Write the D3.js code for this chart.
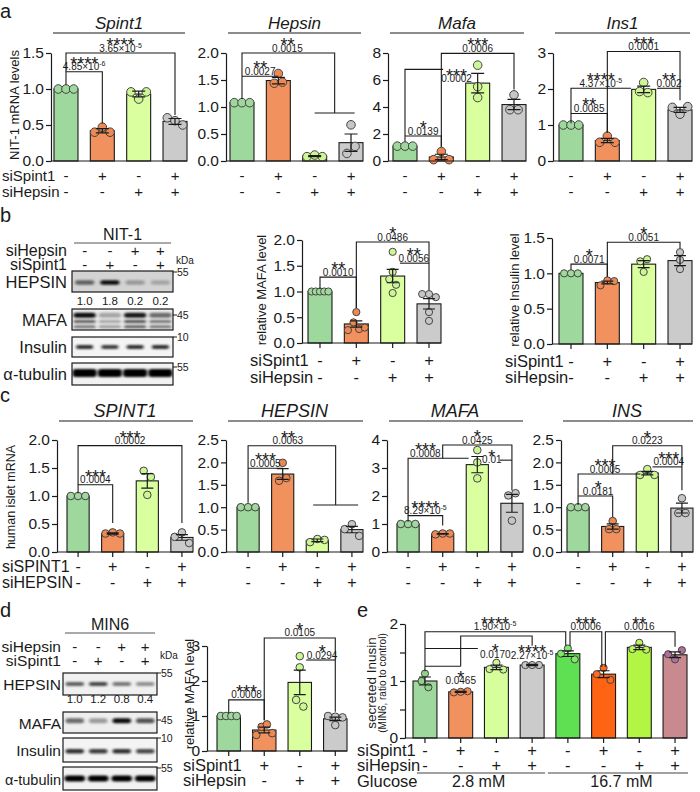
<!DOCTYPE html>
<html><head><meta charset="utf-8">
<script src="https://cdn.jsdelivr.net/npm/d3@7"></script>
<style>
body{margin:0;background:#fff}
svg{display:block}
text{font-family:"Liberation Sans",Arial,sans-serif;fill:#1a1a1a}
</style>
</head><body>
<svg id="fig" width="700" height="792"></svg>
<script>
// ---------------- DATA ----------------
const spintSigns = ["-", "+", "-", "+"];
const hepsinSigns = ["-", "-", "+", "+"];
const barColors = ["#9fd89c", "#f0915e", "#d9ff9e", "#cbcbcb"];
const pointColors = ["#9fd89c", "#ef8953", "#cdf794", "#c6c6c6"];

// panel a (NIT-1 mRNA)
const aGenes = ["Spint1", "Hepsin", "Mafa", "Ins1"];
const aMax = [1.5, 2, 8, 3];
const aTicks = [[0, 0.5, 1, 1.5], [0, 0.5, 1, 1.5, 2], [0, 2, 4, 6, 8], [0, 1, 2, 3]];
const aFmt = [".1f", ".1f", "d", "d"];
const aMeans = [
  [1.0, 0.42, 0.93, 0.55],
  [1.08, 1.49, 0.09, 0.34],
  [1.1, 0.3, 5.77, 4.18],
  [1.0, 0.57, 1.99, 1.42]
];
const aSems = [
  [0, 0.03, 0.04, 0.04],
  [0, 0.06, 0.01, 0.16],
  [0, 0.2, 0.72, 0.38],
  [0, 0.06, 0.09, 0.07]
];
const aPoints = [
  [[1, 1, 1], [0.40, 0.47, 0.40], [0.96, 0.86, 0.96], [0.60, 0.56, 0.50]],
  [[1.08, 1.08, 1.08], [1.44, 1.62, 1.46], [0.08, 0.11, 0.08], [0.14, 0.67, 0.27]],
  [[1.1, 1.1, 1.1], [0.1, 0.7, 0.1], [7.1, 5.5, 4.7], [3.8, 4.9, 3.8]],
  [[1, 1, 1], [0.52, 0.69, 0.52], [1.93, 2.18, 1.9], [1.49, 1.3, 1.51]]
];
const aStats = [
  [
    {s: "****", p: "4.85×10", e: "-6", tx: 0.5, ty: 1.24, path: [[0, 1.06], [0, 1.24], [1, 1.24], [1, 0.52]]},
    {s: "****", p: "3.65×10", e: "-5", tx: 1.5, ty: 1.5, path: [[0, 1.24], [0, 1.5], [3, 1.5], [3, 0.64]]}
  ],
  [
    {s: "**", p: "0.0015", tx: 1.25, ty: 2.0, path: [[0, 1.15], [0, 2.0], [2.55, 2.0], [2.55, 0.89]]},
    {path: [[2, 0.89], [3.1, 0.89]]},
    {s: "**", p: "0.0027", tx: 0.5, ty: 1.57, path: [[0, 1.57], [1, 1.57]]}
  ],
  [
    {s: "*", p: "0.0139", tx: 0.5, ty: 1.85, path: [[0, 1.85], [1, 1.85], [1, 1.06]]},
    {s: "***", p: "0.0002", tx: 1.42, ty: 5.74, path: [[0, 1.43], [0, 6.79], [1.05, 6.79]]},
    {s: "***", p: "0.0006", tx: 2, ty: 7.97, path: [[1, 1.06], [1, 7.97], [3, 7.97], [3, 5.3]]}
  ],
  [
    {s: "**", p: "0.0085", tx: 0.5, ty: 1.32, path: [[0, 1.32], [1, 1.32], [1, 0.79]]},
    {s: "****", p: "4.37×10", e: "-5", tx: 0.82, ty: 2.02, path: [[0, 1.05], [0, 2.02], [1.65, 2.02]]},
    {s: "***", p: "0.0001", tx: 2, ty: 3.04, path: [[1, 0.79], [1, 3.04], [3, 3.04], [3, 1.69]]},
    {s: "**", p: "0.002", tx: 2.7, ty: 2.02, path: [[2.37, 2.02], [3, 2.02]]}
  ]
];

// panel b (NIT-1 protein quantification)
const bMafaTicks = [0, 0.5, 1, 1.5, 2];
const bMafaMeans = [1.0, 0.37, 1.30, 0.76];
const bMafaSems = [0, 0.06, 0.13, 0.1];
const bMafaPoints = [[1, 1, 1, 1, 1], [0.25, 0.40, 0.60, 0.27, 0.30], [1.77, 1.24, 1.13, 0.97, 1.38], [0.95, 0.60, 0.95, 0.43, 0.89]];
const bMafaStats = [
  {s: "**", p: "0.0010", tx: 0.5, ty: 1.28, path: [[0, 1.05], [0, 1.28], [1, 1.28], [1, 0.68]]},
  {s: "*", p: "0.0486", tx: 2, ty: 1.96, path: [[1, 0.68], [1, 1.96], [3, 1.96], [3, 1.03]]},
  {s: "**", p: "0.0056", tx: 2.58, ty: 1.55, path: [[2.2, 1.55], [3, 1.55]]}
];
const bInsTicks = [0, 0.5, 1, 1.5];
const bInsMeans = [1.0, 0.87, 1.13, 1.18];
const bInsSems = [0, 0.02, 0.05, 0.07];
const bInsPoints = [[1, 1, 1], [0.83, 0.90, 0.89], [1.02, 1.17, 1.20], [1.19, 1.30, 1.06]];
const bInsStats = [
  {s: "*", p: "0.0071", tx: 0.5, ty: 1.13, path: [[0, 1.05], [0, 1.13], [1, 1.13], [1, 0.95]]},
  {s: "*", p: "0.0051", tx: 2, ty: 1.44, path: [[1, 0.95], [1, 1.44], [3, 1.44], [3, 1.36]]}
];
const bLaneHepsin = ["-", "-", "+", "+"];
const bLaneSpint = ["-", "+", "-", "+"];
const bQuant = ["1.0", "1.8", "0.2", "0.2"];
const bBandHepsin = [[0.55], [0.95], [0.28], [0.22]];
const bBandMafa = [[0.95, 0.6, 0.5], [0.3, 0.3, 0.35], [0.9, 0.65, 0.6], [0.55, 0.5, 0.5]];
const bBandIns = [[0.8], [0.75], [0.8], [0.8]];
const bBandTub = [[1], [1], [1], [1]];

// panel c (human islet mRNA)
const cGenes = ["SPINT1", "HEPSIN", "MAFA", "INS"];
const cMax = [2, 2.5, 4, 2.5];
const cTicks = [[0, 0.5, 1, 1.5, 2], [0, 0.5, 1, 1.5, 2, 2.5], [0, 1, 2, 3, 4], [0, 0.5, 1, 1.5, 2, 2.5]];
const cFmt = [".1f", ".1f", "d", ".1f"];
const cMeans = [
  [1.0, 0.33, 1.27, 0.26],
  [1.0, 1.74, 0.26, 0.50],
  [1.0, 0.65, 3.12, 1.74],
  [1.0, 0.57, 1.76, 0.98]
];
const cSems = [
  [0, 0.01, 0.13, 0.05],
  [0, 0.12, 0.03, 0.07],
  [0, 0.01, 0.29, 0.32],
  [0, 0.06, 0.04, 0.11]
];
const cPoints = [
  [[1, 1, 1], [0.33, 0.35, 0.33], [1.45, 1.34, 1.02], [0.27, 0.35, 0.16]],
  [[1, 1, 1], [1.59, 1.99, 1.65], [0.22, 0.29, 0.27], [0.51, 0.62, 0.36]],
  [[1, 1, 1], [0.63, 0.66, 0.66], [3.64, 3.2, 2.63], [2.02, 2.1, 1.12]],
  [[1, 1, 1], [0.51, 0.69, 0.51], [1.72, 1.85, 1.72], [0.87, 1.2, 0.87]]
];
const cStats = [
  [
    {s: "***", p: "0.0004", tx: 0.5, ty: 1.2, path: [[0, 1.05], [0, 1.2], [1, 1.2], [1, 0.52]]},
    {s: "***", p: "0.0002", tx: 1.5, ty: 1.9, path: [[0, 1.2], [0, 1.9], [3, 1.9], [3, 0.52]]}
  ],
  [
    {s: "**", p: "0.0063", tx: 1.15, ty: 2.37, path: [[0, 1.1], [0, 2.37], [2.53, 2.37], [2.53, 1.05]]},
    {path: [[1.88, 1.05], [3.18, 1.05]]},
    {s: "***", p: "0.0005", tx: 0.5, ty: 1.87, path: [[0, 1.87], [1, 1.87]]}
  ],
  [
    {s: "****", p: "8.29×10", e: "-5", tx: 0.5, ty: 1.3, path: [[0, 1.08], [0, 1.3], [1, 1.3], [1, 0.95]]},
    {s: "***", p: "0.0008", tx: 0.5, ty: 3.35, path: [[0, 1.3], [0, 3.35], [1.75, 3.35]]},
    {s: "*", p: "0.0425", tx: 2, ty: 3.82, path: [[1, 3.35], [1, 3.82], [3, 3.82], [3, 2.2]]},
    {s: "*", p: "0.01", tx: 2.42, ty: 3.12, path: [[2.65, 3.28], [3, 3.28]]}
  ],
  [
    {s: "*", p: "0.0181", tx: 0.58, ty: 1.25, path: [[0, 1.25], [1, 1.25], [1, 0.78]]},
    {s: "***", p: "0.0005", tx: 0.78, ty: 1.74, path: [[0, 1.05], [0, 1.74], [1.8, 1.74]]},
    {s: "*", p: "0.0223", tx: 2, ty: 2.37, path: [[1, 1.74], [1, 2.37], [3, 2.37], [3, 1.38]]},
    {s: "***", p: "0.0004", tx: 2.62, ty: 1.9, path: [[2.15, 1.9], [3, 1.9]]}
  ]
];

// panel d (MIN6 MAFA)
const dTicks = [0, 1, 2, 3];
const dMeans = [1.0, 0.6, 1.96, 0.92];
const dSems = [0, 0.08, 0.35, 0.05];
const dPoints = [[1, 1, 1, 1], [0.46, 0.69, 0.76, 0.51], [2.71, 2.39, 1.46, 1.27], [1.0, 0.98, 0.96, 0.74]];
const dStats = [
  {s: "***", p: "0.0008", tx: 0.5, ty: 1.46, path: [[0, 1.08], [0, 1.46], [1, 1.46], [1, 0.88]]},
  {s: "*", p: "0.0105", tx: 2, ty: 3.23, path: [[1, 0.88], [1, 3.23], [3, 3.23], [3, 1.12]]},
  {s: "*", p: "0.0294", tx: 2.63, ty: 2.6, path: [[2.18, 2.6], [3, 2.6]]}
];
const dQuant = ["1.0", "1.2", "0.8", "0.4"];
const dBandHepsin = [[0.6], [0.7], [0.5], [0.4]];
const dBandMafa = [[0.55], [0.35], [0.95], [0.65]];
const dBandIns = [[0.8], [0.75], [0.8], [0.7]];
const dBandTub = [[1], [1], [1], [1]];

// panel e (GSIS)
const eSpint = ["-", "+", "-", "+", "-", "+", "-", "+"];
const eHepsin = ["-", "-", "+", "+", "-", "-", "+", "+"];
const eGlucose = ["2.8 mM", "16.7 mM"];
const eTicks = [0, 0.5, 1, 1.5, 2];
const eColors = ["#9fd89c", "#f0915e", "#d6ff9c", "#cbcbcb", "#5ee052", "#ff6414", "#b2f542", "#c88a8e"];
const ePointColors = ["#8fd486", "#ef8953", "#cdf794", "#c6c6c6", "#7fe86a", "#ff6a1f", "#bdf55a", "#b0709e"];
const eMeans = [1.0, 0.81, 1.24, 1.28, 1.48, 1.12, 1.59, 1.46];
const eSems = [0.07, 0.01, 0.04, 0.01, 0.05, 0.06, 0.04, 0.05];
const ePoints = [[1.13, 1.0, 0.89], [0.80, 0.81, 0.82], [1.21, 1.32, 1.2], [1.28, 1.28, 1.28],
                 [1.48, 1.57, 1.38], [1.12, 1.23, 1.02], [1.56, 1.67, 1.55], [1.47, 1.38, 1.54]];
const eStats = [
  {s: "****", p: "1.90×10", e: "-5", tx: 1.96, ty: 1.865, path: [[0, 1.17], [0, 1.865], [3.94, 1.865], [3.94, 1.62]]},
  {s: "*", p: "0.0465", tx: 1, ty: 0.92, path: [[0, 1.26], [1, 1.26]]},
  {s: "*", p: "0.0170", tx: 1.97, ty: 1.38, path: [[0, 1.57], [1.48, 1.57]]},
  {s: "****", p: "2.27×10", e: "-5", tx: 3, ty: 1.36, path: [[1, 1.26], [1, 1.79], [3, 1.79], [3, 1.62]]},
  {s: "***", p: "0.0006", tx: 4.5, ty: 1.865, path: [[4.06, 1.62], [4.06, 1.865], [4.95, 1.865], [4.95, 1.25]]},
  {s: "**", p: "0.0016", tx: 6, ty: 1.865, path: [[5.05, 1.25], [5.05, 1.865], [7, 1.865], [7, 1.6]]}
];

// ---------------- DRAWING ----------------
const INK = "#1a1a1a";
const svg = d3.select("#fig");
svg.append("rect").attr("width", 700).attr("height", 792).attr("fill", "#fff");
const defs = svg.append("defs");
const blur = defs.append("filter").attr("id", "blur").attr("x", "-50%").attr("y", "-200%").attr("width", "200%").attr("height", "500%");
blur.append("feGaussianBlur").attr("stdDeviation", "1.4 1.0");

function txt(g, x, y, s, size, anchor, extra) {
  const t = g.append("text").attr("x", x).attr("y", y).attr("font-size", size)
    .attr("text-anchor", anchor || "start").text(s);
  if (extra && extra.italic) t.attr("font-style", "italic");
  if (extra && extra.rotate) t.attr("transform", `rotate(-90,${x},${y})`);
  return t;
}

function spread(vals, y, r, bw) {
  const idx = vals.map((v, i) => i).sort((a, b) => vals[a] - vals[b]);
  const off = vals.map(() => 0);
  const clusters = [];
  let cur = [idx[0]];
  for (let k = 1; k < idx.length; k++) {
    if (Math.abs(y(vals[idx[k]]) - y(vals[cur[cur.length - 1]])) < 2 * r) cur.push(idx[k]);
    else { clusters.push(cur); cur = [idx[k]]; }
  }
  clusters.push(cur);
  clusters.forEach(c => {
    const n = c.length;
    if (n < 2) return;
    const sp = Math.min(2 * r * 0.95, (bw - 2 * r) / (n - 1));
    c.slice().sort((a, b) => a - b).forEach((i, j) => off[i] = (j - (n - 1) / 2) * sp);
  });
  return off;
}

function barChart(c) {
  const g = svg.append("g");
  const n = c.means.length;
  const y = d3.scaleLinear().domain([0, c.max]).range([c.y0, c.y1]);
  const x = d3.scaleBand().domain(d3.range(n)).range([c.bx0, c.bx1]).paddingInner(c.pad || 0.34).paddingOuter(0);
  const bw = x.bandwidth();
  const xc = i => x(i) + bw / 2;
  const xi = t => {
    const i0 = Math.max(0, Math.min(n - 2, Math.floor(t)));
    return xc(i0) + (t - i0) * (xc(i0 + 1) - xc(i0));
  };
  g.selectAll(null).data(c.means).join("rect")
    .attr("x", (d, i) => x(i)).attr("y", d => y(d))
    .attr("width", bw).attr("height", d => y(0) - y(d))
    .attr("fill", (d, i) => c.colors[i]).attr("stroke", INK).attr("stroke-width", 1.1);
  c.points.forEach((pts, i) => {
    const off = spread(pts, y, c.r, bw);
    g.selectAll(null).data(pts).join("circle")
      .attr("cx", (d, j) => xc(i) + off[j]).attr("cy", d => y(d)).attr("r", c.r)
      .attr("fill", c.pcolors[i]).attr("stroke", "#444").attr("stroke-width", 1);
  });
  c.means.forEach((m, i) => {
    const s = c.sems[i];
    if (!s) return;
    const cx = xc(i), w = c.cap || 12;
    g.append("path")
      .attr("d", `M${cx},${y(Math.max(0, m - s))}V${y(m + s)}M${cx - w / 2},${y(m + s)}H${cx + w / 2}M${cx - w / 2},${y(Math.max(0, m - s))}H${cx + w / 2}`)
      .attr("stroke", INK).attr("stroke-width", 1.2).attr("fill", "none");
  });
  const fmt = c.fmt === "int" ? (d => Number.isInteger(d) ? d : "") : d3.format(c.fmt);
  const ya = d3.axisLeft(y).tickValues(c.ticks).tickFormat(fmt).tickSize(5).tickSizeOuter(0).tickPadding(2);
  const ag = g.append("g").attr("transform", `translate(${c.ax},0)`).call(ya);
  ag.select(".domain").attr("stroke", INK).attr("stroke-width", 1.2);
  ag.selectAll(".tick line").attr("stroke", INK).attr("stroke-width", 1.2);
  ag.selectAll(".tick text").attr("font-size", c.tickFont || 15)
    .attr("font-family", '"Liberation Sans", Arial, sans-serif').attr("fill", INK);
  g.append("line").attr("x1", c.ax).attr("x2", c.bx1).attr("y1", y(0)).attr("y2", y(0))
    .attr("stroke", INK).attr("stroke-width", 1.2);
  if (c.xticks) {
    g.selectAll(null).data(d3.range(n)).join("line")
      .attr("x1", i => xc(i)).attr("x2", i => xc(i)).attr("y1", y(0)).attr("y2", y(0) + 5)
      .attr("stroke", INK).attr("stroke-width", 1.2);
  }
  const line = d3.line().x(d => xi(d[0])).y(d => y(d[1]));
  c.stats.forEach(a => {
    g.append("path").attr("d", line(a.path)).attr("fill", "none").attr("stroke", INK).attr("stroke-width", 1.1);
    if (!a.s) return;
    const px = xi(a.tx), py = y(a.ty) - 1.5;
    const t = g.append("text").attr("text-anchor", "middle");
    t.append("tspan").attr("x", px).attr("y", py - 0.5).attr("font-size", 18).text(a.s);
    t.append("tspan").attr("x", px).attr("y", py).attr("font-size", 10).text(a.p);
    if (a.e) t.append("tspan").attr("dy", -4).attr("font-size", 7).text(a.e);
  });
  (c.rows || []).forEach(r => {
    if (r.label) txt(g, r.lx, r.y, r.label, r.size || 15);
    r.signs.forEach((s, i) => {
      if (r.skip && r.skip.includes(i)) return;
      txt(g, xc(i), r.y, s, r.size || 15, "middle");
    });
  });
  return {x, y, xc, g};
}

function blot(c) {
  const g = svg.append("g");
  const lanes = d3.scaleBand().domain(d3.range(4)).range([c.x0, c.x1]);
  const lc = i => lanes(i) + lanes.bandwidth() / 2;
  txt(g, (c.x0 + c.x1) / 2, c.titleY, c.title, 16, "middle");
  g.append("line").attr("x1", c.x0 + 2).attr("x2", c.x1 - 2).attr("y1", c.titleY + 3).attr("y2", c.titleY + 3)
    .attr("stroke", "#555").attr("stroke-width", 1.2);
  c.signRows.forEach(r => {
    txt(g, c.labelX, r.y, r.label, c.rowSize, "end");
    r.signs.forEach((s, i) => txt(g, lc(i), r.y, s, 15, "middle"));
  });
  txt(g, c.x1 + 3, c.kdaY, "kDa", 10);
  c.blots.forEach((b, k) => {
    const clipId = `clip_${c.id}_${k}`;
    defs.append("clipPath").attr("id", clipId).append("rect")
      .attr("x", c.x0).attr("y", b.y0).attr("width", c.x1 - c.x0).attr("height", b.y1 - b.y0);
    g.append("rect").attr("x", c.x0).attr("y", b.y0).attr("width", c.x1 - c.x0).attr("height", b.y1 - b.y0)
      .attr("fill", b.bg);
    const bg = g.append("g").attr("clip-path", `url(#${clipId})`);
    b.bands.forEach((lane, i) => {
      lane.forEach((v, j) => {
        const h = b.h[j], w = lanes.bandwidth() - b.inset;
        bg.append("rect").attr("x", lc(i) - w / 2).attr("y", b.y0 + b.f[j] * (b.y1 - b.y0) - h / 2)
          .attr("width", w).attr("height", h).attr("rx", Math.min(h / 2, 3))
          .attr("fill", "#000").attr("fill-opacity", v).attr("filter", "url(#blur)");
      });
    });
    g.append("rect").attr("x", c.x0).attr("y", b.y0).attr("width", c.x1 - c.x0).attr("height", b.y1 - b.y0)
      .attr("fill", "none").attr("stroke", INK).attr("stroke-width", 1.2);
    txt(g, c.labelX, (b.y0 + b.y1) / 2 + 6, b.name, b.size || c.labelSize, "end");
    g.append("line").attr("x1", c.x1).attr("x2", c.x1 + 4).attr("y1", b.mk).attr("y2", b.mk)
      .attr("stroke", INK).attr("stroke-width", 1);
    txt(g, c.x1 + 4, b.mk + 4, b.kda, 10.5);
  });
  c.quant.forEach((q, i) => txt(g, lc(i), c.quantY, q, 11.5, "middle"));
}

// panel letters
[["a", 0, 18], ["b", 0, 222], ["c", 0, 402], ["d", 0, 617], ["e", 357, 617]]
  .forEach(([l, x, y]) => txt(svg, x, y, l, 20));

// ---- panel a ----
const aAx = [51, 226, 388, 553];
const aBx0 = [54, 230, 393, 559];
aGenes.forEach((gname, k) => {
  barChart({
    ax: aAx[k], bx0: aBx0[k], bx1: aBx0[k] + 133, y0: 161, y1: 53, max: aMax[k],
    ticks: aTicks[k], fmt: aFmt[k], means: aMeans[k], sems: aSems[k], points: aPoints[k],
    colors: barColors, pcolors: pointColors, r: 4.3, cap: 13, stats: aStats[k], tickFont: 15.5,
    rows: [
      {label: k === 0 ? "siSpint1" : null, lx: 2, y: 181, signs: spintSigns},
      {label: k === 0 ? "siHepsin" : null, lx: 2, y: 197, signs: hepsinSigns}
    ]
  });
  const cx = (aAx[k] + aBx0[k] + 133) / 2;
  txt(svg, cx, 29, gname, 17, "middle", {italic: true});
  svg.append("line").attr("x1", aAx[k] + 2).attr("x2", aBx0[k] + 131).attr("y1", 33).attr("y2", 33)
    .attr("stroke", "#666").attr("stroke-width", 1.3);
});
txt(svg, 19, 105, "NIT-1 mRNA levels", 13, "middle", {rotate: true});

// ---- panel b ----
blot({
  id: "b", x0: 72, x1: 173, title: "NIT-1", titleY: 240, labelX: 67, kdaY: 264, quantY: 305,
  rowSize: 16, labelSize: 16.5,
  signRows: [{label: "siHepsin", y: 256, signs: bLaneHepsin}, {label: "siSpint1", y: 270, signs: bLaneSpint}],
  quant: bQuant,
  blots: [
    {name: "HEPSIN", y0: 271, y1: 292, bg: "#d3d3d3", kda: "55", mk: 272, bands: bBandHepsin, f: [0.55], h: [4.5], inset: 6},
    {name: "MAFA", y0: 309, y1: 330, bg: "#ececec", kda: "45", mk: 315, bands: bBandMafa, f: [0.3, 0.6, 0.85], h: [5, 3, 3], inset: 3},
    {name: "Insulin", y0: 337, y1: 357, bg: "#f4f4f4", kda: "10", mk: 337, bands: bBandIns, f: [0.5], h: [4], inset: 8},
    {name: "α-tubulin", y0: 363, y1: 385, bg: "#f2f2f2", kda: "55", mk: 367, bands: bBandTub, f: [0.45], h: [8], inset: 1}
  ]
});
barChart({
  ax: 302, bx0: 308, bx1: 441, y0: 343, y1: 240, max: 2, ticks: bMafaTicks, fmt: ".1f",
  means: bMafaMeans, sems: bMafaSems, points: bMafaPoints, colors: barColors, pcolors: pointColors,
  r: 3.6, cap: 12, stats: bMafaStats, xticks: true, tickFont: 15.5,
  rows: [{label: "siSpint1", lx: 250, y: 366, signs: spintSigns, size: 16.5},
         {label: "siHepsin", lx: 250, y: 383, signs: hepsinSigns, size: 16.5}]
});
txt(svg, 266, 290, "relative MAFA level", 13, "middle", {rotate: true});
barChart({
  ax: 552, bx0: 559, bx1: 692, y0: 344, y1: 238, max: 1.5, ticks: bInsTicks, fmt: ".1f",
  means: bInsMeans, sems: bInsSems, points: bInsPoints, colors: barColors, pcolors: pointColors,
  r: 3.6, cap: 12, stats: bInsStats, xticks: true, tickFont: 15.5,
  rows: [{label: "siSpint1", lx: 505, y: 367, signs: spintSigns, size: 16.5},
         {label: "siHepsin", lx: 505, y: 383, signs: hepsinSigns, size: 16.5}]
});
txt(svg, 519, 290, "relative Insulin level", 13, "middle", {rotate: true});

// ---- panel c ----
const cAx = [57, 226, 387, 561];
const cBx0 = [67, 237, 397, 567];
cGenes.forEach((gname, k) => {
  barChart({
    ax: cAx[k], bx0: cBx0[k], bx1: cBx0[k] + 126, y0: 552, y1: 440, max: cMax[k],
    ticks: cTicks[k], fmt: cFmt[k], means: cMeans[k], sems: cSems[k], points: cPoints[k],
    colors: barColors, pcolors: pointColors, r: 3.8, cap: 12, stats: cStats[k], xticks: true, pad: 0.36,
    tickFont: 15.5,
    rows: [
      {label: k === 0 ? "siSPINT1" : null, lx: 2, y: 572, signs: spintSigns, size: 16},
      {label: k === 0 ? "siHEPSIN" : null, lx: 2, y: 588, signs: hepsinSigns, size: 16}
    ]
  });
  const x1 = cBx0[k] + 126;
  txt(svg, (cAx[k] + x1) / 2, 417, gname, 18, "middle", {italic: true});
  svg.append("line").attr("x1", cAx[k] + 2).attr("x2", x1).attr("y1", 421).attr("y2", 421)
    .attr("stroke", "#666").attr("stroke-width", 1.3);
});
txt(svg, 15, 497, "human islet mRNA", 12.5, "middle", {rotate: true});

// ---- panel d ----
blot({
  id: "d", x0: 63, x1: 157, title: "MIN6", titleY: 630, labelX: 61, kdaY: 659, quantY: 703,
  rowSize: 15.5, labelSize: 15.5,
  signRows: [{label: "siHepsin", y: 652, signs: bLaneHepsin}, {label: "siSpint1", y: 666, signs: bLaneSpint}],
  quant: dQuant,
  blots: [
    {name: "HEPSIN", y0: 673, y1: 695, bg: "#f0f0f0", kda: "55", mk: 673, bands: dBandHepsin, f: [0.5], h: [4], inset: 5},
    {name: "MAFA", y0: 712, y1: 733, bg: "#eeeeee", kda: "45", mk: 720, bands: dBandMafa, f: [0.42], h: [5], inset: 5},
    {name: "Insulin", y0: 738, y1: 762, bg: "#f4f4f4", kda: "10", mk: 738, bands: dBandIns, f: [0.55], h: [4.5], inset: 5},
    {name: "α-tubulin", y0: 767, y1: 790, bg: "#f2f2f2", kda: "55", mk: 768, bands: dBandTub, f: [0.5], h: [6], inset: 3, size: 14.5}
  ]
});
barChart({
  ax: 207, bx0: 217, bx1: 347, y0: 751, y1: 646, max: 3, ticks: dTicks, fmt: "d",
  means: dMeans, sems: dSems, points: dPoints, colors: barColors, pcolors: pointColors,
  r: 3.8, cap: 12, stats: dStats, xticks: true, tickFont: 15.5,
  rows: [{label: "siSpint1", lx: 183, y: 771, signs: spintSigns, size: 16.5, skip: [0]},
         {label: "siHepsin", lx: 183, y: 786, signs: hepsinSigns, size: 16.5, skip: [0]}]
});
txt(svg, 194, 694, "relative MAFA level", 13, "middle", {rotate: true});

// ---- panel e ----
const eCh = barChart({
  ax: 405, bx0: 413, bx1: 687, y0: 738, y1: 624, max: 2, ticks: eTicks, fmt: "int",
  means: eMeans, sems: eSems, points: ePoints, colors: eColors, pcolors: ePointColors,
  r: 3.6, cap: 12, stats: eStats, xticks: true, pad: 0.33, tickFont: 15.5,
  rows: [{label: "siSpint1", lx: 357, y: 756, signs: eSpint, size: 16.5},
         {label: "siHepsin", lx: 357, y: 771, signs: eHepsin, size: 16.5}]
});
txt(svg, 357, 787, "Glucose", 16.5);
[[0, 3], [4, 7]].forEach(([i0, i1], k) => {
  const xa = eCh.x(i0) - 8, xb = eCh.x(i1) + eCh.x.bandwidth() + 1;
  svg.append("line").attr("x1", k === 0 ? 417 : xa).attr("x2", xb).attr("y1", 773).attr("y2", 773)
    .attr("stroke", "#444").attr("stroke-width", 1.2);
  txt(svg, (eCh.xc(i0) + eCh.xc(i1)) / 2, 787, eGlucose[k], 16, "middle");
});
txt(svg, 376, 683, "secreted Inusin", 13.5, "middle", {rotate: true});
txt(svg, 386, 683, "(MIN6, ratio to control)", 10, "middle", {rotate: true});
</script>
</body></html>
